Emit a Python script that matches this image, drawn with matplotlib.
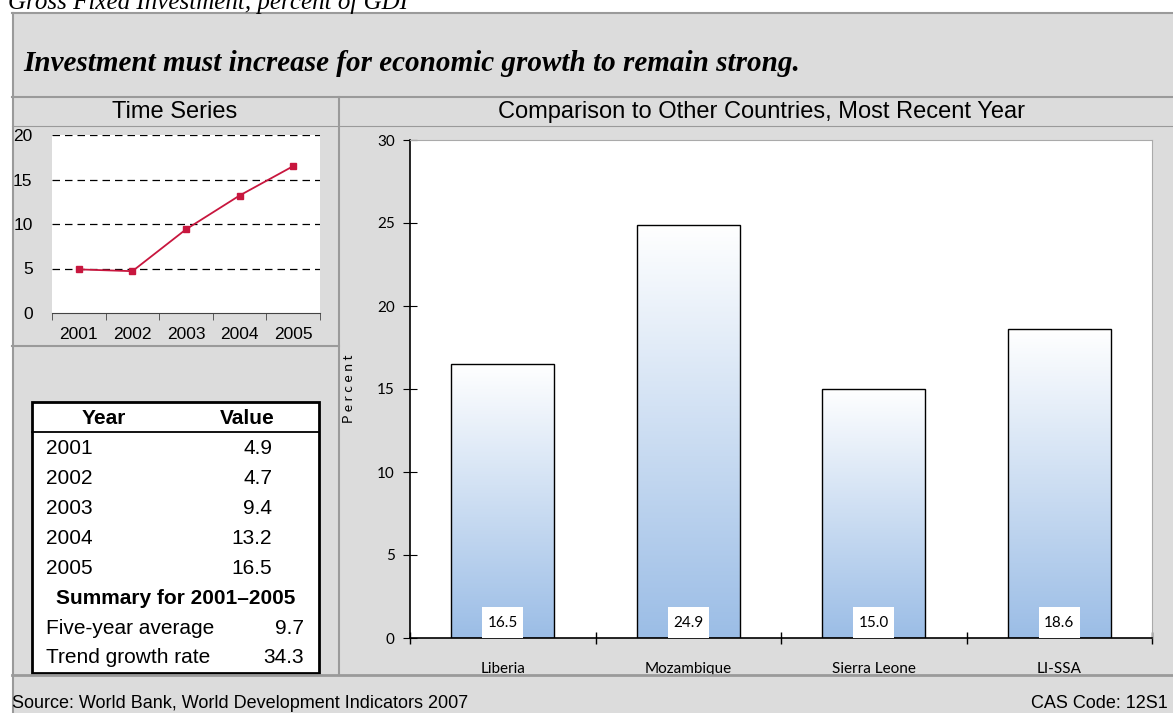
import numpy as np
import matplotlib
matplotlib.use("Agg")
import matplotlib.pyplot as plt
from matplotlib.patches import Rectangle
from matplotlib.lines import Line2D
from matplotlib.colors import LinearSegmentedColormap

years = ["2001", "2002", "2003", "2004", "2005"]
invest = [4.9, 4.7, 9.4, 13.2, 16.5]
summary_labels = ["Five-year average", "Trend growth rate"]
summary_values = [9.7, 34.3]

countries = ["Liberia", "Mozambique", "Sierra Leone", "LI-SSA"]
country_values = [16.5, 24.9, 15.0, 18.6]

W, H = 1173, 713
GRAY = "#dcdcdc"
EDGE = "#9a9a9a"
RED = "#c8163e"


def fx(x):
    return x / W


def fy(y):
    return 1 - y / H


def hline(fig, y, x0, x1, lw=1.0, color=EDGE):
    fig.add_artist(Line2D([fx(x0), fx(x1)], [fy(y), fy(y)], lw=lw, color=color))


def vline(fig, x, y0, y1, lw=1.0, color=EDGE):
    fig.add_artist(Line2D([fx(x), fx(x)], [fy(y0), fy(y1)], lw=lw, color=color))


fig = plt.figure(figsize=(W / 100, H / 100), dpi=100, facecolor="white")

# gray panel behind everything
fig.add_artist(Rectangle((fx(12), 0), 1 - fx(12), fy(13), facecolor=GRAY,
                         edgecolor="none", zorder=-10))
hline(fig, 13, 12, W, lw=1.5)
vline(fig, 12.5, 13, H, lw=1.5)
hline(fig, 97, 12, W, lw=1.5)
hline(fig, 126, 12, W, lw=0.8)
vline(fig, 339, 97, 675, lw=1.5)
hline(fig, 346, 12, 339, lw=1.5)
hline(fig, 675, 12, W, lw=2.0)

fig.text(fx(8), fy(9), "Gross Fixed Investment, percent of GDI",
         family="Liberation Serif", style="italic", fontsize=18, va="baseline")
fig.text(fx(23), fy(71), "Investment must increase for economic growth to remain strong.",
         family="Liberation Serif", style="italic", weight="bold", fontsize=21,
         va="baseline")
fig.text(fx(175), fy(112), "Time Series", family="Liberation Sans",
         fontsize=17, ha="center", va="center")
fig.text(fx(762), fy(112), "Comparison to Other Countries, Most Recent Year",
         family="Liberation Sans", fontsize=17, ha="center", va="center")
fig.text(fx(12), fy(703), "Source: World Bank, World Development Indicators 2007",
         family="Liberation Sans", fontsize=13, va="center")
fig.text(fx(1168), fy(703), "CAS Code: 12S1", family="Liberation Sans",
         fontsize=13, va="center", ha="right")

# time series line chart
ax1 = fig.add_axes([fx(52), fy(313), fx(320 - 52), (313 - 135) / H])
x = np.arange(len(years))
ax1.plot(x, invest, color=RED, lw=1.3, marker="s", ms=4.5, mec=RED, mfc=RED)
ax1.set_xlim(-0.5, len(years) - 0.5)
ax1.set_ylim(0, 20)
ax1.set_yticks([0, 5, 10, 15, 20])
for v in [5, 10, 15, 20]:
    ax1.axhline(v, color="black", lw=0.9, ls=(0, (6, 4)), zorder=0)
ax1.set_xticks(x)
ax1.set_xticklabels(years)
ax1.set_xticks(np.arange(-0.5, len(years)), minor=True)
ax1.tick_params(axis="x", which="major", length=0, pad=10, labelsize=12.5)
ax1.tick_params(axis="x", which="minor", length=5, color="#444444")
ax1.tick_params(axis="y", length=0, pad=14, labelsize=12.5)
for lab in ax1.get_xticklabels() + ax1.get_yticklabels():
    lab.set_family("Liberation Sans")
for s in ["left", "right", "top"]:
    ax1.spines[s].set_visible(False)
ax1.spines["bottom"].set_color("#444444")

# summary table
fig.add_artist(Rectangle((fx(32), fy(673)), fx(319 - 32), (673 - 402) / H,
                         facecolor="white", edgecolor="black", lw=2))
hline(fig, 432, 32, 319, lw=1.3, color="black")
tkw = dict(family="Liberation Sans", fontsize=15, va="center")
fig.text(fx(104), fy(418), "Year", ha="center", weight="bold", **tkw)
fig.text(fx(247), fy(418), "Value", ha="center", weight="bold", **tkw)
for i, (yr, v) in enumerate(zip(years, invest)):
    yy = 449 + i * 29.8
    fig.text(fx(46), fy(yy), yr, ha="left", **tkw)
    fig.text(fx(272), fy(yy), f"{v:.1f}", ha="right", **tkw)
fig.text(fx(176), fy(598), "Summary for 2001\u20132005", ha="center",
         weight="bold", **tkw)
for i, (lab, v) in enumerate(zip(summary_labels, summary_values)):
    yy = 628 + i * 29.5
    fig.text(fx(46), fy(yy), lab, ha="left", **tkw)
    fig.text(fx(304), fy(yy), f"{v:.1f}", ha="right", **tkw)

# comparison bar chart
ax2 = fig.add_axes([fx(410), fy(638), fx(1152 - 410), (638 - 140) / H])
cmap = LinearSegmentedColormap.from_list("fade", ["#9bbde6", "#ffffff"])
cx = np.arange(len(countries))
bars = ax2.bar(cx, country_values, width=0.555, facecolor="none",
               edgecolor="black", lw=1.0, zorder=3)
grad = np.linspace(0, 1, 256).reshape(-1, 1)
for b, v in zip(bars, country_values):
    x0 = b.get_x()
    im = ax2.imshow(grad, extent=[x0, x0 + b.get_width(), 0, v], origin="lower",
                    aspect="auto", cmap=cmap, zorder=2)
    im.set_clip_path(b)
    mid = b.get_x() + b.get_width() / 2
    ax2.add_patch(Rectangle((mid - 0.11, 0), 0.22, 1.87,
                            facecolor="white", edgecolor="none", zorder=4))
    ax2.text(mid, 0.93, f"{v:.1f}", ha="center", va="center",
             fontsize=11, family="Lato", zorder=5)
ax2.set_xlim(-0.5, len(countries) - 0.5)
ax2.set_ylim(0, 30)
ax2.set_yticks(range(0, 31, 5))
ax2.set_xticks(cx)
ax2.set_xticklabels(countries)
ax2.set_xticks(np.arange(-0.5, len(countries)), minor=True)
ax2.tick_params(axis="x", which="major", length=0, pad=17, labelsize=11)
ax2.tick_params(axis="x", which="minor", length=8, width=1, direction="inout")
ax2.tick_params(axis="y", length=10, direction="inout", pad=6, labelsize=11)
for lab in ax2.get_xticklabels() + ax2.get_yticklabels():
    lab.set_family("Lato")
ax2.set_ylabel("P e r c e n t", family="Lato", fontsize=10, labelpad=16)
ax2.spines["top"].set_color("#aaaaaa")
ax2.spines["right"].set_color("#aaaaaa")
ax2.spines["left"].set_linewidth(1.2)
ax2.spines["bottom"].set_linewidth(1.2)

fig.savefig("out.png", dpi=100, facecolor="white")
